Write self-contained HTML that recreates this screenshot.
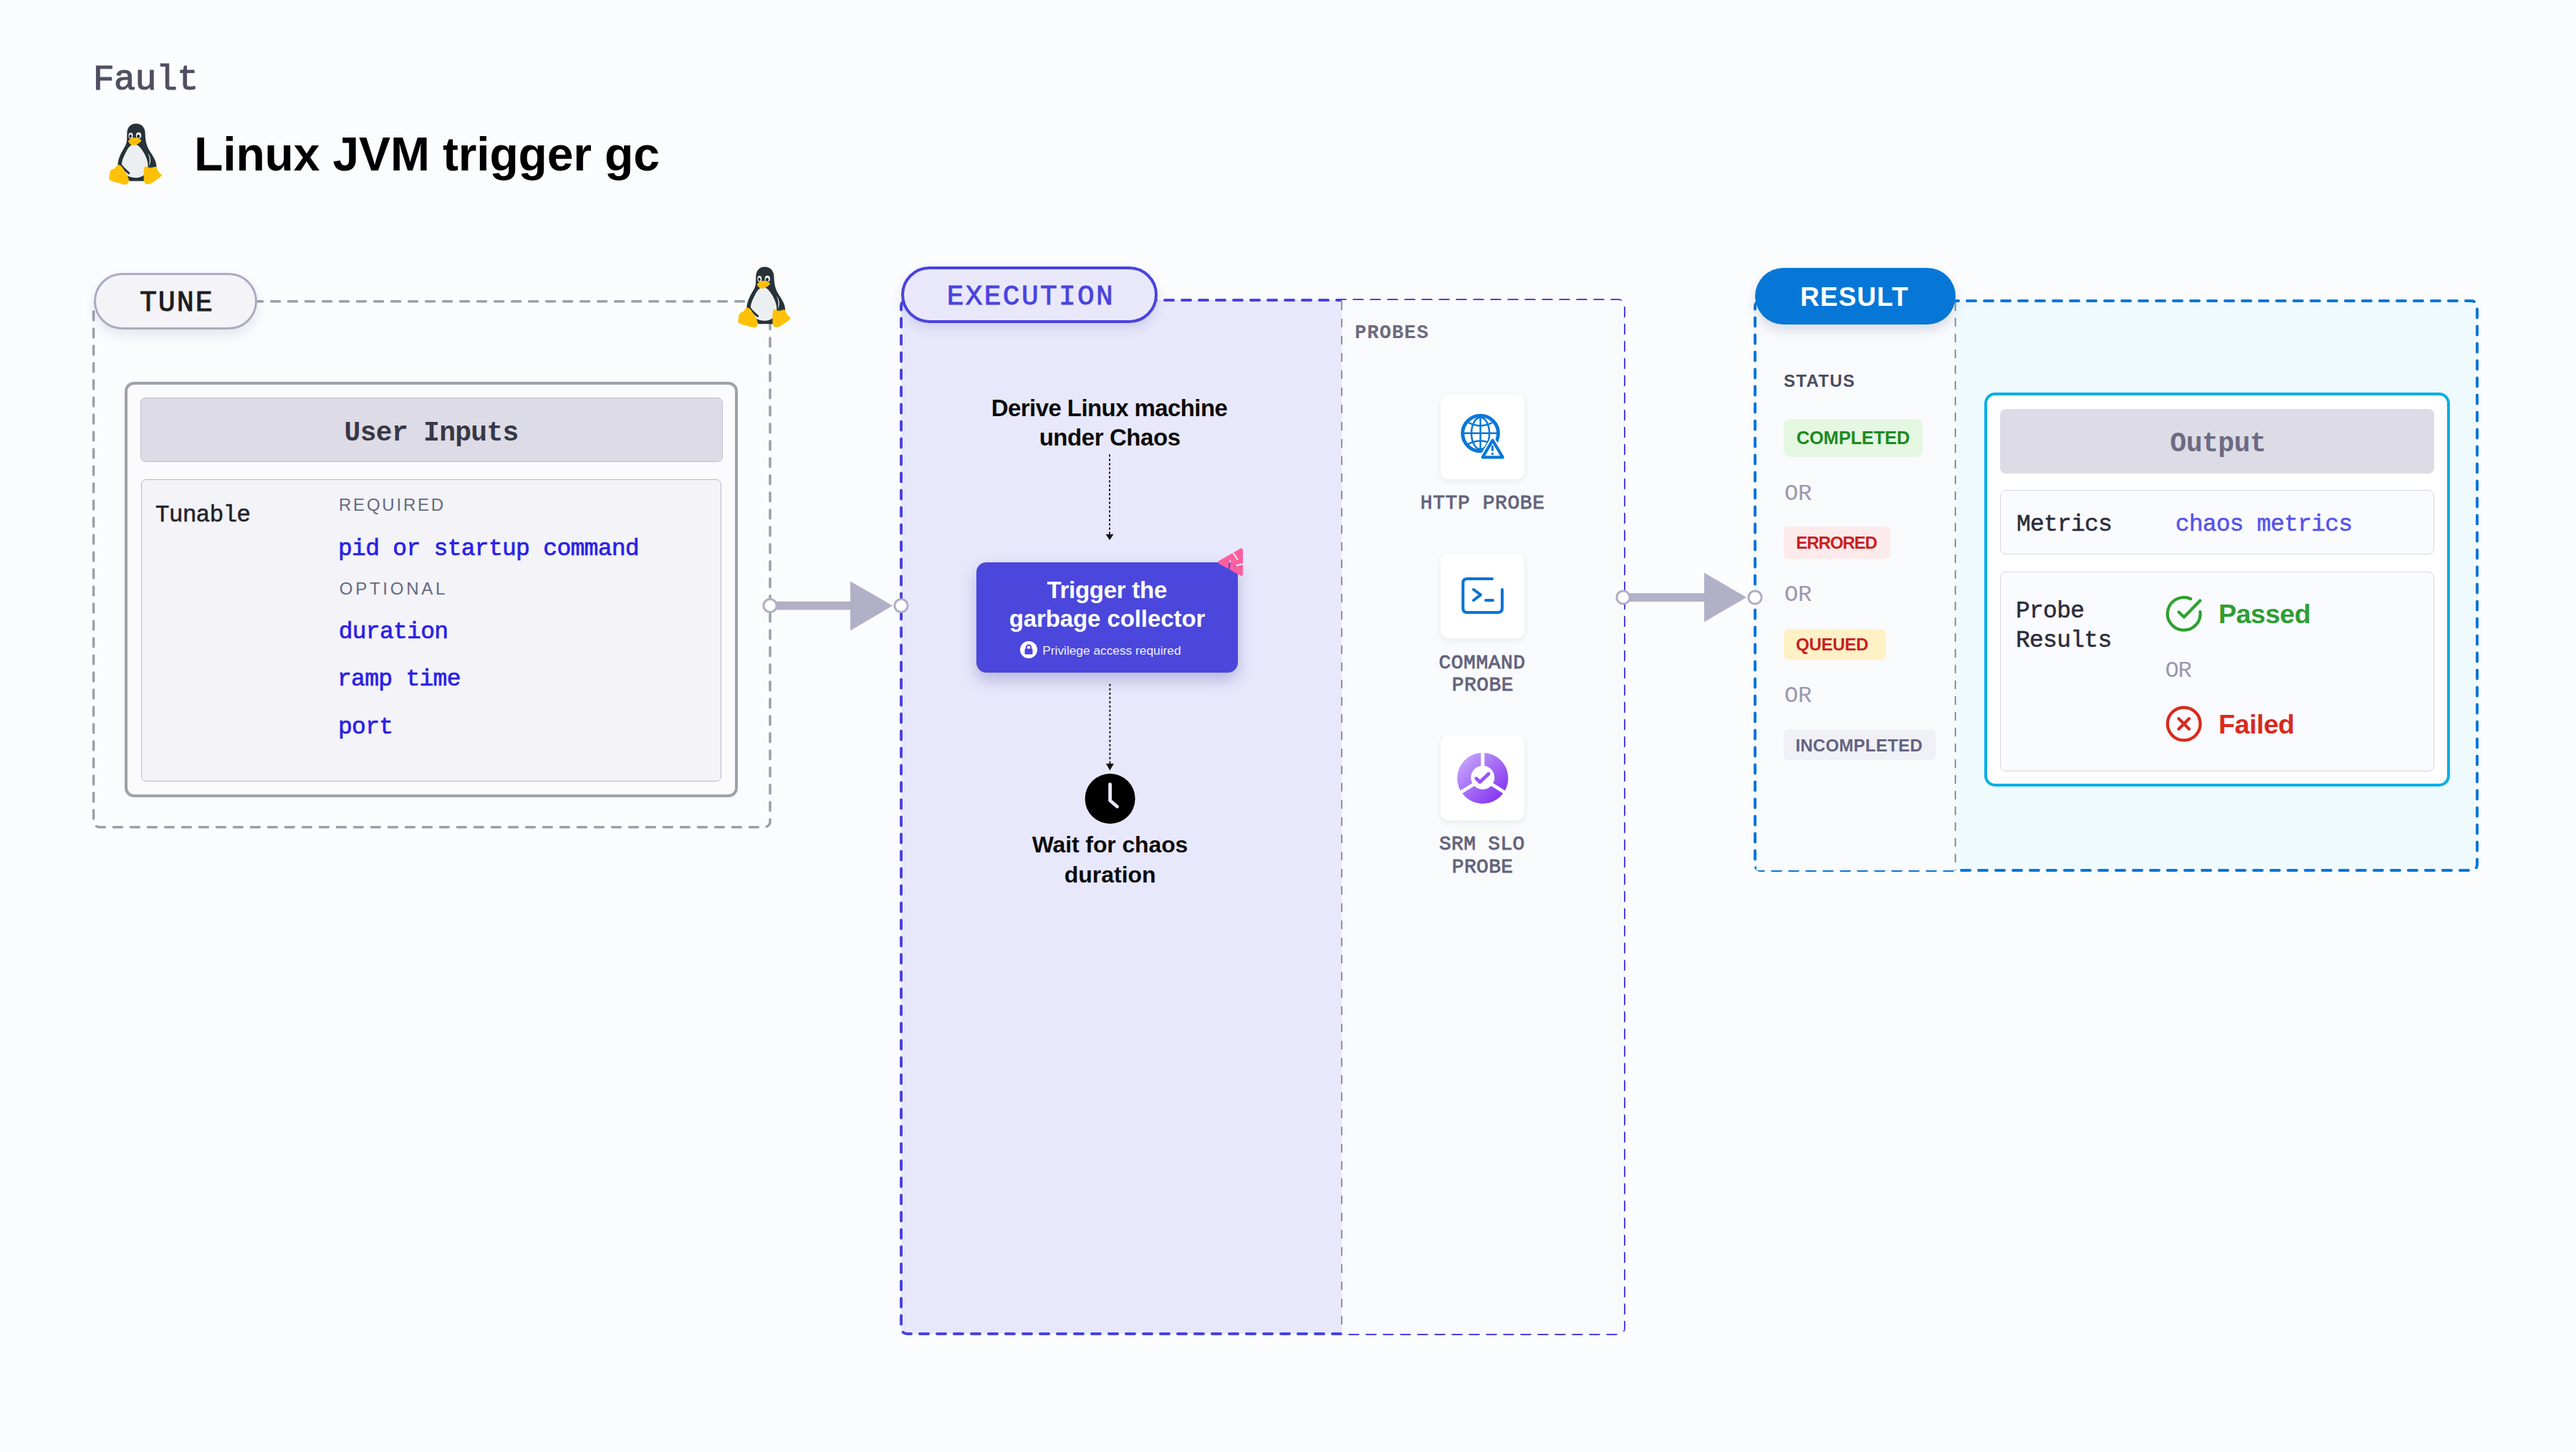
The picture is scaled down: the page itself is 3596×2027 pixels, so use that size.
<!DOCTYPE html><html><head><meta charset="utf-8"><style>
html,body{margin:0;padding:0;}body{width:3596px;height:2027px;position:relative;overflow:hidden;background:#fbfcfe;}
.t{position:absolute;white-space:nowrap;}.b{position:absolute;box-sizing:border-box;}.s{position:absolute;overflow:visible;}
</style></head><body>
<svg width="0" height="0" style="position:absolute"><defs><symbol id="tux" viewBox="140 95 1085 1260">
<path fill="#263238" d="M690 100 C590 100 515 170 510 290 C505 400 520 470 470 560 C420 650 330 780 320 940 L560 1270 L850 1270 L1110 990 C1110 850 1030 760 960 640 C900 540 880 420 880 300 C875 170 800 100 690 100 Z"/>
<path fill="#eceff1" d="M655 520 C590 520 540 580 490 680 C430 790 395 880 400 980 C410 1100 520 1205 690 1205 C830 1205 930 1110 935 980 C940 870 900 780 850 690 C790 590 730 520 655 520 Z"/>
<path fill="#eceff1" d="M930 700 C995 765 1010 880 955 965 C980 870 972 775 930 700 Z"/><path fill="#263238" d="M400 930 C450 1000 520 1060 565 1100 C578 1115 562 1138 540 1132 C480 1092 420 1032 390 962 Z"/><ellipse cx="1000" cy="1010" rx="52" ry="32" fill="#455a64"/><ellipse cx="585" cy="348" rx="45" ry="62" fill="#eceff1"/>
<ellipse cx="745" cy="345" rx="54" ry="65" fill="#eceff1"/>
<ellipse cx="580" cy="358" rx="23" ry="34" fill="#1b1f22"/>
<ellipse cx="740" cy="360" rx="28" ry="37" fill="#1b1f22"/>
<path fill="#ffc107" d="M530 455 C570 420 610 385 660 385 C720 390 770 420 805 440 C790 480 720 530 650 545 C600 550 550 510 530 455 Z"/>
<path fill="none" stroke="#d9a000" stroke-width="8" d="M560 470 C620 500 700 490 780 440"/>
<path fill="#ffc107" d="M330 935 C390 945 420 1000 470 1080 C520 1160 560 1220 540 1300 C520 1350 460 1350 400 1330 C320 1300 230 1290 170 1260 C130 1230 150 1180 160 1120 C160 1060 180 1040 240 1020 C280 1000 300 940 330 935 Z"/>
<path fill="#ffc107" d="M880 975 C920 965 950 1010 990 1005 C1040 1000 1080 960 1110 990 C1130 1060 1160 1100 1215 1140 C1230 1170 1150 1220 1060 1280 C990 1330 930 1360 880 1320 C840 1280 850 1200 850 1120 C850 1050 850 990 880 975 Z"/>
</symbol><linearGradient id="srm" x1="0" y1="0" x2="1" y2="1"><stop offset="0" stop-color="#cdb2fd"/><stop offset="1" stop-color="#7a24ee"/></linearGradient></defs></svg>
<div class="t" style="left:129.76px;top:86.90px;font-family:'Liberation Mono', monospace;font-weight:400;font-size:50px;line-height:50px;letter-spacing:-0.653px;color:#4f4f63;-webkit-text-stroke:1.1px #4f4f63;">Fault</div>
<svg class="s" style="left:151.7px;top:171.8px;" width="74.4" height="86.6" viewBox="0 0 1085 1260"><use href="#tux" width="1085" height="1260"/></svg>
<div class="t" style="left:271.08px;top:182.12px;font-family:'Liberation Sans', sans-serif;font-weight:700;font-size:66px;line-height:66px;letter-spacing:-0.153px;color:#000000;">Linux JVM trigger gc</div>
<svg class="s" style="left:0px;top:0px;left:0;top:0" width="3596" height="2027" viewBox="0 0 3596 2027"><rect x="130.6" y="420.7" width="944.4" height="734" rx="8" fill="none" stroke="#9ba0a8" stroke-width="3.5" stroke-dasharray="12 12" stroke-linecap="round"/></svg>
<div class="b" style="left:131.30px;top:381.10px;width:227.40px;height:78.50px;border:3.5px solid #acabc1;background:#f3f3f8;border-radius:40px;box-shadow:0 8px 16px rgba(40,40,90,0.10);"></div>
<div class="t" style="left:194.92px;top:404.36px;font-family:'Liberation Mono', monospace;font-weight:400;font-size:40px;line-height:40px;letter-spacing:1.920px;color:#1c1c22;-webkit-text-stroke:1px #1c1c22;">TUNE</div>
<svg class="s" style="left:1030px;top:371.9px;" width="74" height="86.1" viewBox="0 0 1085 1260"><use href="#tux" width="1085" height="1260"/></svg>
<div class="b" style="left:174.00px;top:533.00px;width:856.00px;height:580.00px;border:4px solid #9da1a8;background:#fbfbfe;border-radius:13px;"></div>
<div class="b" style="left:196.00px;top:555.00px;width:813.00px;height:90.00px;border:1.5px solid #c0bfd1;background:#dcdbe6;border-radius:7px;"></div>
<div class="t" style="left:480.61px;top:585.89px;font-family:'Liberation Mono', monospace;font-weight:700;font-size:38px;line-height:38px;letter-spacing:-0.713px;color:#383846;">User Inputs</div>
<div class="b" style="left:197.00px;top:668.50px;width:810.00px;height:422.50px;border:1.5px solid #b9b8cb;background:#f3f3f8;border-radius:7px;"></div>
<div class="t" style="left:216.78px;top:702.72px;font-family:'Liberation Mono', monospace;font-weight:400;font-size:33px;line-height:33px;letter-spacing:-0.870px;color:#222228;-webkit-text-stroke:0.5px #222228;">Tunable</div>
<div class="t" style="left:473.03px;top:692.68px;font-family:'Liberation Sans', sans-serif;font-weight:400;font-size:24px;line-height:24px;letter-spacing:2.777px;color:#646a80;">REQUIRED</div>
<div class="t" style="left:473.86px;top:809.98px;font-family:'Liberation Sans', sans-serif;font-weight:400;font-size:24px;line-height:24px;letter-spacing:3.725px;color:#646a80;">OPTIONAL</div>
<div class="t" style="left:472.02px;top:749.72px;font-family:'Liberation Mono', monospace;font-weight:400;font-size:33px;line-height:33px;letter-spacing:-0.718px;color:#2a1ee6;-webkit-text-stroke:0.7px #2a1ee6;">pid or startup command</div>
<div class="t" style="left:472.68px;top:865.72px;font-family:'Liberation Mono', monospace;font-weight:400;font-size:33px;line-height:33px;letter-spacing:-0.718px;color:#2a1ee6;-webkit-text-stroke:0.7px #2a1ee6;">duration</div>
<div class="t" style="left:471.00px;top:932.42px;font-family:'Liberation Mono', monospace;font-weight:400;font-size:33px;line-height:33px;letter-spacing:-0.718px;color:#2a1ee6;-webkit-text-stroke:0.7px #2a1ee6;">ramp time</div>
<div class="t" style="left:472.02px;top:998.72px;font-family:'Liberation Mono', monospace;font-weight:400;font-size:33px;line-height:33px;letter-spacing:-0.718px;color:#2a1ee6;-webkit-text-stroke:0.7px #2a1ee6;">port</div>
<svg class="s" style="left:0px;top:0px;left:0;top:0" width="3596" height="2027" viewBox="0 0 3596 2027"><rect x="1258" y="419" width="1009" height="1443" rx="8" fill="#e8e8fc" stroke="#4a43de" stroke-width="4" stroke-dasharray="12 12" stroke-linecap="round"/><path d="M1873 419 H2259 Q2267 419 2267 427 V1854 Q2267 1862 2259 1862 H1873 Z" fill="#f9fafc"/><line x1="1873" y1="421" x2="1873" y2="1862" stroke="#8f90a2" stroke-width="2" stroke-dasharray="12 12"/><rect x="2450" y="420" width="1008" height="795" rx="8" fill="#effafe" stroke="#0b77d4" stroke-width="4" stroke-dasharray="12 12" stroke-linecap="round"/><rect x="2452" y="422" width="277.6" height="793" fill="#f9fafc"/><line x1="2729.6" y1="422" x2="2729.6" y2="1215" stroke="#72728a" stroke-width="1.6" stroke-dasharray="12 10"/><rect x="1075" y="839.6" width="112" height="11.8" fill="#b0b1c6"/><polygon points="1187,811.5 1246,845.5 1187,880.4" fill="#b0b1c6"/><circle cx="1075" cy="845.5" r="9.1" fill="#ffffff" stroke="#aeafc3" stroke-width="3"/><circle cx="1258" cy="845.5" r="9.1" fill="#ffffff" stroke="#aeafc3" stroke-width="3"/><rect x="2266" y="828.1" width="113" height="11.8" fill="#b0b1c6"/><polygon points="2379,799.6 2438,834 2379,868.3" fill="#b0b1c6"/><circle cx="2266" cy="834" r="9.1" fill="#ffffff" stroke="#aeafc3" stroke-width="3"/><circle cx="2450" cy="834" r="9.1" fill="#ffffff" stroke="#aeafc3" stroke-width="3"/></svg>
<div class="b" style="left:1258.30px;top:371.60px;width:357.70px;height:79.20px;border:4px solid #4a43de;background:#e9e8fb;border-radius:40px;box-shadow:0 8px 16px rgba(40,40,120,0.12);"></div>
<div class="t" style="left:1321.78px;top:395.34px;font-family:'Liberation Mono', monospace;font-weight:400;font-size:39.5px;line-height:39.5px;letter-spacing:2.329px;color:#4a43de;-webkit-text-stroke:0.9px #4a43de;">EXECUTION</div>
<div class="t" style="left:1383.84px;top:552.66px;font-family:'Liberation Sans', sans-serif;font-weight:700;font-size:33px;line-height:33px;letter-spacing:-0.583px;color:#0a0a0a;">Derive Linux machine</div>
<div class="t" style="left:1450.65px;top:594.46px;font-family:'Liberation Sans', sans-serif;font-weight:700;font-size:33px;line-height:33px;letter-spacing:-0.429px;color:#0a0a0a;">under Chaos</div>
<svg class="s" style="left:1530px;top:625px;" width="40" height="140" viewBox="0 0 40 140"><line x1="19" y1="9.5" x2="19" y2="121" stroke="#111" stroke-width="2" stroke-dasharray="3 3"/><polygon points="13.5,120.8 24.5,120.8 19,129" fill="#111"/></svg>
<div class="b" style="left:1363.00px;top:785.00px;width:365.00px;height:154.00px;background:#4b47dc;border-radius:14px;box-shadow:0 10px 22px rgba(50,50,140,0.28);"></div>
<div class="t" style="left:1461.43px;top:807.06px;font-family:'Liberation Sans', sans-serif;font-weight:700;font-size:33px;line-height:33px;letter-spacing:-0.265px;color:#ffffff;">Trigger the</div>
<div class="t" style="left:1408.65px;top:846.56px;font-family:'Liberation Sans', sans-serif;font-weight:700;font-size:33px;line-height:33px;letter-spacing:-0.090px;color:#ffffff;">garbage collector</div>
<svg class="s" style="left:1423px;top:895px;" width="26" height="26" viewBox="0 0 26 26"><circle cx="13" cy="12" r="12" fill="#ffffff"/><rect x="7.5" y="10.5" width="11" height="8" rx="1.2" fill="#4b47dc"/><path d="M9.8 11 V8.6 A3.2 3.2 0 0 1 16.2 8.6 V11" fill="none" stroke="#4b47dc" stroke-width="2"/></svg>
<div class="t" style="left:1455.28px;top:899.85px;font-family:'Liberation Sans', sans-serif;font-weight:400;font-size:17.3px;line-height:17.3px;letter-spacing:0.007px;color:#eeeefb;">Privilege access required</div>
<svg class="s" style="left:1680px;top:750px;" width="70" height="70" viewBox="0 0 1452 1452"><defs><mask id="bm" maskUnits="userSpaceOnUse" x="0" y="0" width="1452" height="1452"><rect width="1452" height="1452" fill="#fff"/><g stroke="#000" stroke-width="42" stroke-linecap="round"><line x1="820" y1="400" x2="985" y2="640"/><line x1="770" y1="680" x2="725" y2="1000"/><line x1="905" y1="830" x2="1200" y2="755"/></g></mask></defs><polygon mask="url(#bm)" points="478,722 1092,372 1092,1068" fill="#fe5f9f" stroke="#fe5f9f" stroke-width="100" stroke-linejoin="round"/></svg>
<svg class="s" style="left:1530px;top:945px;" width="40" height="140" viewBox="0 0 40 140"><line x1="19.4" y1="9.7" x2="19.4" y2="121" stroke="#111" stroke-width="2" stroke-dasharray="3 3"/><polygon points="13.9,121 24.9,121 19.4,130.5" fill="#111"/></svg>
<svg class="s" style="left:1514px;top:1080px;" width="71" height="71" viewBox="0 0 71 71"><circle cx="35.6" cy="35" r="35" fill="#000"/><path d="M35.6 15 V37.5 L45.5 46" fill="none" stroke="#e8e8fb" stroke-width="4.8" stroke-linecap="round" stroke-linejoin="round"/></svg>
<div class="t" style="left:1440.72px;top:1162.91px;font-family:'Liberation Sans', sans-serif;font-weight:700;font-size:32px;line-height:32px;letter-spacing:-0.125px;color:#0a0a0a;">Wait for chaos</div>
<div class="t" style="left:1485.69px;top:1204.91px;font-family:'Liberation Sans', sans-serif;font-weight:700;font-size:32px;line-height:32px;letter-spacing:-0.012px;color:#0a0a0a;">duration</div>
<div class="t" style="left:1891.21px;top:452.02px;font-family:'Liberation Mono', monospace;font-weight:700;font-size:27px;line-height:27px;letter-spacing:1.084px;color:#6b6b80;">PROBES</div>
<div class="b" style="left:2010.80px;top:551.00px;width:117.60px;height:118.00px;background:#ffffff;border-radius:11px;box-shadow:0 3px 8px rgba(30,30,60,0.07);"></div>
<div class="b" style="left:2010.80px;top:773.00px;width:117.60px;height:118.00px;background:#ffffff;border-radius:11px;box-shadow:0 3px 8px rgba(30,30,60,0.07);"></div>
<div class="b" style="left:2010.80px;top:1027.00px;width:117.60px;height:117.60px;background:#ffffff;border-radius:11px;box-shadow:0 3px 8px rgba(30,30,60,0.07);"></div>
<svg class="s" style="left:2005px;top:545px;" width="130" height="130" viewBox="0 0 1452 1452"><g fill="none" stroke="#0a78d6"><circle cx="688" cy="670" r="278" stroke-width="55"/><ellipse cx="688" cy="670" rx="140" ry="248" stroke-width="28"/><line x1="688" y1="400" x2="688" y2="940" stroke-width="28"/><line x1="415" y1="668" x2="960" y2="668" stroke-width="28"/><path d="M505 505 Q688 595 870 505" stroke-width="28"/><path d="M490 840 Q688 735 885 840" stroke-width="28"/></g><polygon points="878,778 722,1043 1036,1043" fill="#fff" stroke="#fff" stroke-width="90" stroke-linejoin="round"/><polygon points="878,778 722,1043 1036,1043" fill="#fff" stroke="#0a78d6" stroke-width="46" stroke-linejoin="round"/><line x1="876" y1="860" x2="876" y2="945" stroke="#0a78d6" stroke-width="34"/><circle cx="876" cy="988" r="20" fill="#0a78d6"/></svg>
<svg class="s" style="left:2010.8px;top:773px;" width="117.6" height="118" viewBox="0 0 117.6 118"><g fill="none" stroke="#0a74d4" stroke-width="4" stroke-linecap="round" stroke-linejoin="round"><path d="M72 35 H37 Q31.3 35 31.3 41 V76 Q31.3 82 37 82 H80 Q86 82 86 76 V50"/><path d="M46 50 L56 57.3 L46 65"/><line x1="63" y1="65" x2="73" y2="65"/></g></svg>
<svg class="s" style="left:2010.7px;top:1027px;" width="117.6" height="117.6" viewBox="0 0 117.6 117.6"><circle cx="58.8" cy="59.3" r="35.6" fill="url(#srm)"/><g stroke="#ffffff" stroke-width="5"><line x1="58.8" y1="59.3" x2="58.8" y2="20"/><line x1="58.8" y1="60" x2="22" y2="83"/><line x1="58.8" y1="60" x2="95.6" y2="83"/></g><circle cx="58.8" cy="58.5" r="16.5" fill="#ffffff"/><path d="M49.9 59.8 L54.9 64.8 L67 53.3" fill="none" stroke="#9a55f5" stroke-width="5" stroke-linecap="round" stroke-linejoin="round"/></svg>
<div class="t" style="left:1982.79px;top:689.25px;font-family:'Liberation Mono', monospace;font-weight:400;font-size:28px;line-height:28px;letter-spacing:0.572px;color:#62627a;-webkit-text-stroke:0.8px #62627a;">HTTP PROBE</div>
<div class="t" style="left:2008.46px;top:911.55px;font-family:'Liberation Mono', monospace;font-weight:400;font-size:28px;line-height:28px;letter-spacing:0.508px;color:#62627a;-webkit-text-stroke:0.8px #62627a;">COMMAND</div>
<div class="t" style="left:2026.79px;top:943.05px;font-family:'Liberation Mono', monospace;font-weight:400;font-size:28px;line-height:28px;letter-spacing:0.416px;color:#62627a;-webkit-text-stroke:0.8px #62627a;">PROBE</div>
<div class="t" style="left:2008.92px;top:1164.55px;font-family:'Liberation Mono', monospace;font-weight:400;font-size:28px;line-height:28px;letter-spacing:0.312px;color:#62627a;-webkit-text-stroke:0.8px #62627a;">SRM SLO</div>
<div class="t" style="left:2026.79px;top:1196.55px;font-family:'Liberation Mono', monospace;font-weight:400;font-size:28px;line-height:28px;letter-spacing:0.341px;color:#62627a;-webkit-text-stroke:0.8px #62627a;">PROBE</div>
<div class="b" style="left:2450.00px;top:374.00px;width:280.00px;height:79.00px;background:#0677d6;border-radius:40px;box-shadow:0 8px 16px rgba(20,40,90,0.14);"></div>
<div class="t" style="left:2513.02px;top:396.37px;font-family:'Liberation Sans', sans-serif;font-weight:700;font-size:37px;line-height:37px;letter-spacing:1.075px;color:#ffffff;">RESULT</div>
<div class="t" style="left:2490.01px;top:519.98px;font-family:'Liberation Sans', sans-serif;font-weight:700;font-size:24px;line-height:24px;letter-spacing:1.286px;color:#4b4b5e;">STATUS</div>
<div class="b" style="left:2490.00px;top:585.10px;width:193.80px;height:52.70px;background:#e4f7e1;border-radius:9px;"></div>
<div class="t" style="left:2507.76px;top:598.69px;font-family:'Liberation Sans', sans-serif;font-weight:700;font-size:25.4px;line-height:25.4px;letter-spacing:-0.119px;color:#1e8a22;">COMPLETED</div>
<div class="t" style="left:2491.11px;top:673.78px;font-family:'Liberation Mono', monospace;font-weight:400;font-size:32px;line-height:32px;letter-spacing:-0.400px;color:#9898ad;">OR</div>
<div class="t" style="left:2491.11px;top:815.18px;font-family:'Liberation Mono', monospace;font-weight:400;font-size:32px;line-height:32px;letter-spacing:-0.400px;color:#9898ad;">OR</div>
<div class="t" style="left:2491.11px;top:956.48px;font-family:'Liberation Mono', monospace;font-weight:400;font-size:32px;line-height:32px;letter-spacing:-0.400px;color:#9898ad;">OR</div>
<div class="b" style="left:2490.00px;top:735.00px;width:149.00px;height:45.00px;background:#fdeaea;border-radius:7px;"></div>
<div class="t" style="left:2507.19px;top:745.68px;font-family:'Liberation Sans', sans-serif;font-weight:700;font-size:24px;line-height:24px;letter-spacing:-1.066px;color:#c8211f;">ERRORED</div>
<div class="b" style="left:2490.00px;top:877.50px;width:143.00px;height:43.00px;background:#fff1c6;border-radius:7px;"></div>
<div class="t" style="left:2507.02px;top:887.98px;font-family:'Liberation Sans', sans-serif;font-weight:700;font-size:24px;line-height:24px;letter-spacing:-0.258px;color:#c8211f;">QUEUED</div>
<div class="b" style="left:2490.00px;top:1017.60px;width:212.00px;height:43.90px;background:#f0f0f6;border-radius:7px;"></div>
<div class="t" style="left:2506.39px;top:1028.98px;font-family:'Liberation Sans', sans-serif;font-weight:700;font-size:24px;line-height:24px;letter-spacing:0.245px;color:#636380;">INCOMPLETED</div>
<div class="b" style="left:2769.60px;top:548.40px;width:650.10px;height:549.80px;border:4px solid #0aaee6;background:#ffffff;border-radius:15px;"></div>
<div class="b" style="left:2791.70px;top:570.80px;width:606.70px;height:89.90px;background:#dcdbe6;border-radius:8px;"></div>
<div class="t" style="left:3029.36px;top:600.89px;font-family:'Liberation Mono', monospace;font-weight:700;font-size:38px;line-height:38px;letter-spacing:-0.517px;color:#6b6b82;">Output</div>
<div class="b" style="left:2792.30px;top:683.70px;width:605.70px;height:89.90px;border:1.5px solid #d6d6e1;background:#fafbfe;border-radius:8px;"></div>
<div class="t" style="left:2814.92px;top:715.72px;font-family:'Liberation Mono', monospace;font-weight:400;font-size:33px;line-height:33px;letter-spacing:-0.803px;color:#2b2b3a;-webkit-text-stroke:0.5px #2b2b3a;">Metrics</div>
<div class="t" style="left:3036.71px;top:715.72px;font-family:'Liberation Mono', monospace;font-weight:400;font-size:33px;line-height:33px;letter-spacing:-0.827px;color:#5552ea;-webkit-text-stroke:0.5px #5552ea;">chaos metrics</div>
<div class="b" style="left:2792.00px;top:797.70px;width:606.00px;height:279.20px;border:1.5px solid #d6d6e1;background:#fafbfe;border-radius:8px;"></div>
<div class="t" style="left:2813.89px;top:836.72px;font-family:'Liberation Mono', monospace;font-weight:400;font-size:33px;line-height:33px;letter-spacing:-0.715px;color:#2b2b3a;-webkit-text-stroke:0.5px #2b2b3a;">Probe</div>
<div class="t" style="left:2813.89px;top:877.72px;font-family:'Liberation Mono', monospace;font-weight:400;font-size:33px;line-height:33px;letter-spacing:-0.715px;color:#2b2b3a;-webkit-text-stroke:0.5px #2b2b3a;">Results</div>
<svg class="s" style="left:3010px;top:820px;" width="80" height="220" viewBox="0 0 528 1452"><path d="M404.9 225.1 A151 151 0 1 1 317.4 105.5" fill="none" stroke="#2ea12f" stroke-width="28" stroke-linecap="round"/><path d="M208 228 L256 274 L404 122" fill="none" stroke="#2ea12f" stroke-width="28" stroke-linecap="round" stroke-linejoin="round"/></svg>
<div class="t" style="left:3096.99px;top:838.75px;font-family:'Liberation Sans', sans-serif;font-weight:700;font-size:37.5px;line-height:37.5px;letter-spacing:-0.492px;color:#2e9e33;">Passed</div>
<div class="t" style="left:3022.41px;top:921.28px;font-family:'Liberation Mono', monospace;font-weight:400;font-size:32px;line-height:32px;letter-spacing:-1.000px;color:#9898ad;">OR</div>
<svg class="s" style="left:3010px;top:820px;" width="80" height="220" viewBox="0 0 528 1452"><circle cx="255" cy="1257" r="151" fill="none" stroke="#d9291e" stroke-width="28"/><path d="M207 1209 L303 1305 M303 1209 L207 1305" fill="none" stroke="#d9291e" stroke-width="28" stroke-linecap="round"/></svg>
<div class="t" style="left:3096.99px;top:992.75px;font-family:'Liberation Sans', sans-serif;font-weight:700;font-size:37.5px;line-height:37.5px;letter-spacing:-0.416px;color:#d9291e;">Failed</div>
</body></html>
